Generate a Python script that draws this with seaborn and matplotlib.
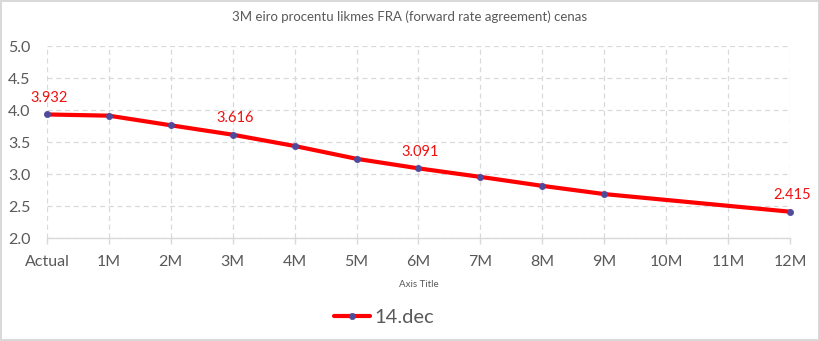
import numpy as np
import pandas as pd
import matplotlib
matplotlib.use("Agg")
import matplotlib.pyplot as plt
import seaborn as sns

categories = ["Actual", "1M", "2M", "3M", "4M", "5M", "6M", "7M", "8M", "9M", "10M", "11M", "12M"]
values_14dec = [3.932, 3.913, 3.763, 3.616, 3.44, 3.24, 3.091, 2.958, 2.818, 2.69, np.nan, np.nan, 2.415]
labeled = {"Actual": 3.932, "3M": 3.616, "6M": 3.091, "12M": 2.415}
series_name = "14.dec"
title = "3M eiro procentu likmes FRA (forward rate agreement) cenas"
y_ticks = [2.0, 2.5, 3.0, 3.5, 4.0, 4.5, 5.0]

sns.set_theme(style="white")
plt.rcParams["font.family"] = ["Lato", "DejaVu Sans"]

grey = "#595959"
grid = "#d9d9d9"
red = "#ff0000"

fig = plt.figure(figsize=(8.2, 3.41), dpi=100)
fig.patch.set_edgecolor(grid)
fig.patch.set_linewidth(1.5)
ax = fig.add_axes([0.0573, 0.3012, 0.9061, 0.5639])

df = pd.DataFrame({"pos": np.arange(len(categories)), "value": values_14dec,
                   "series": series_name}).dropna()
sns.lineplot(data=df, x="pos", y="value", hue="series", palette=[red], ax=ax,
             linewidth=3, marker="o", markersize=4.5, markerfacecolor="#4f4a9a",
             markeredgecolor="#4f4a9a", markeredgewidth=0.5, legend=True)
for ln in ax.lines:
    ln.set_clip_on(False)

for cat, val in labeled.items():
    ax.annotate(f"{val:.3f}", (categories.index(cat), val), xytext=(1.5, 12),
                textcoords="offset points", ha="center", va="center",
                color="#f01010", fontsize=10.5)

ax.set_xlim(0, len(categories) - 1)
ax.set_ylim(2, 5)
ax.set_xticks(np.arange(len(categories)))
ax.set_xticklabels(categories)
ax.set_yticks(y_ticks)
ax.set_yticklabels([f"{t:.1f}" for t in y_ticks])
ax.tick_params(axis="x", colors=grid, labelcolor=grey, labelsize=11.5, length=4,
               width=1, pad=8, direction="out", bottom=True)
ax.tick_params(axis="y", labelcolor=grey, labelsize=11.5, length=0, pad=12)
ax.grid(True, color=grid, linestyle=(0, (4, 3)), linewidth=0.9)
ax.set_axisbelow(True)
for s in ["top", "left", "right"]:
    ax.spines[s].set_visible(False)
ax.spines["bottom"].set_color(grid)
ax.spines["bottom"].set_linewidth(1)
ax.set_xlabel("Axis Title", color=grey, fontsize=7, labelpad=8)
ax.set_ylabel("")

fig.text(0.5, 0.952, title, ha="center", va="center", color=grey, fontsize=9.5)

handles, labels = ax.get_legend_handles_labels()
ax.legend(handles, labels, loc="center", bbox_to_anchor=(0.468, 0.068),
          bbox_transform=fig.transFigure, frameon=False, fontsize=14.5,
          labelcolor=grey, handlelength=1.8, handletextpad=0.2)

fig.savefig("out.png", dpi=100)
